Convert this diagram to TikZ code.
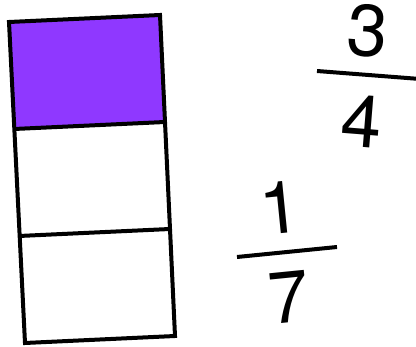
\documentclass[tikz,border=0pt]{standalone}
\usepackage{fontspec}
\setmainfont{TeX Gyre Heros}
\definecolor{shadepurple}{HTML}{8F38FF}

\begin{document}
\begin{tikzpicture}[
  x=1pt,y=-1pt,
  box/.style={draw=black,line width=4pt},
  digit/.style={inner sep=0pt,font=\fontsize{73}{73}\selectfont},
  fracbar/.style={draw=black,line width=4pt}
]
\useasboundingbox (0,0) rectangle (416,347);

% Strip of three slightly tilted cells, top one shaded.
\coordinate (tl) at (9,22);   \coordinate (tr) at (160,15);
\coordinate (m1l) at (14,129); \coordinate (m1r) at (165,122);
\coordinate (m2l) at (19,236); \coordinate (m2r) at (170,229);
\coordinate (bl) at (25,343);  \coordinate (br) at (175,336);
\fill[shadepurple] (tl) -- (tr) -- (m1r) -- (m1l) -- cycle;
\draw[box] (tl) -- (tr) -- (br) -- (bl) -- cycle;
\draw[box] (m1l) -- (m1r);
\draw[box] (m2l) -- (m2r);

% Fraction 3/4, tipped clockwise.
\node[digit,rotate=-4.6] (three) at (368,31) {3};
\node[digit,rotate=-4.6] (four) at (362,121) {4};
\coordinate (bar34a) at (317,71);
\coordinate (bar34b) at (420,79);
\draw[fracbar] (bar34a) -- (bar34b);

% Fraction 1/7, tipped the other way.
\node[digit,rotate=5.7] (one) at (280,208) {1};
\node[digit,rotate=5.7] (seven) at (289,297) {7};
\coordinate (bar17a) at (237,257);
\coordinate (bar17b) at (337,247);
\draw[fracbar] (bar17a) -- (bar17b);
\end{tikzpicture}
\end{document}
